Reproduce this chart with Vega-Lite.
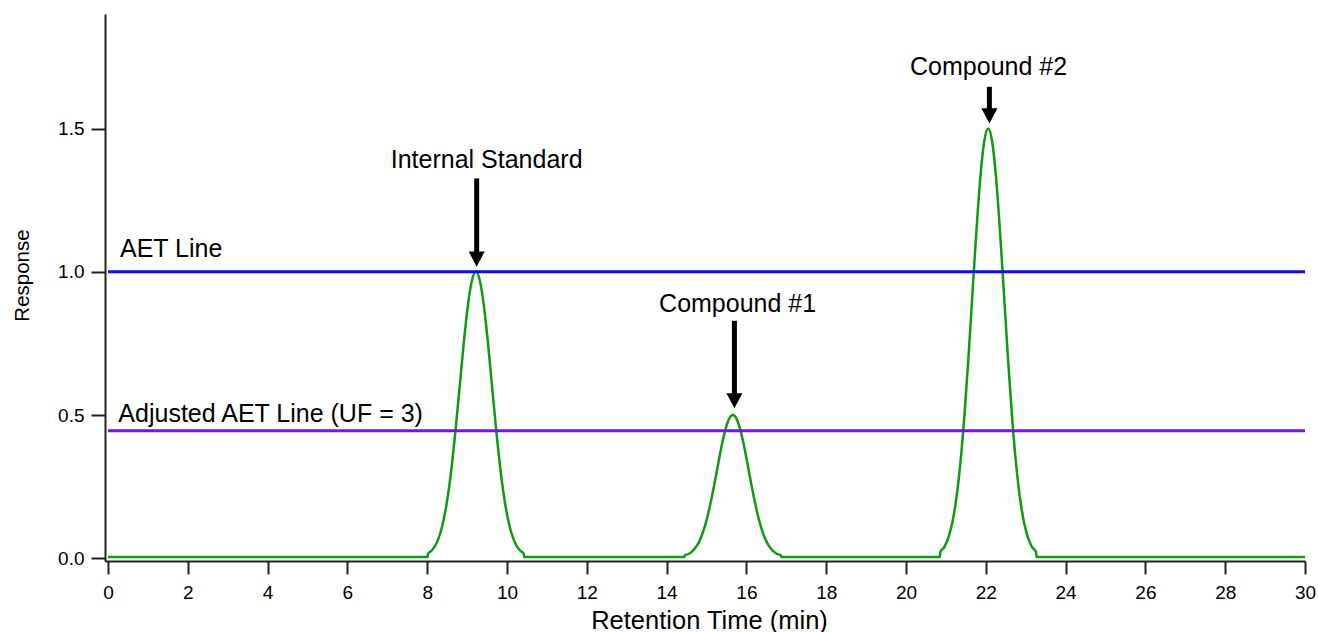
{
  "$schema": "https://vega.github.io/schema/vega-lite/v6.json",
  "width": 1200,
  "height": 547,
  "autosize": {"type": "none"},
  "padding": {"left": 105, "top": 14, "right": 13, "bottom": 71},
  "background": "white",
  "config": {
    "view": {"stroke": null},
    "font": "Liberation Sans",
    "axis": {
      "grid": false,
      "domainColor": "#222222",
      "tickColor": "#222222",
      "domainWidth": 2,
      "tickWidth": 2,
      "labelColor": "#000000",
      "titleColor": "#000000",
      "labelFont": "Liberation Sans",
      "titleFont": "Liberation Sans",
      "labelFontSize": 19,
      "titleFontWeight": "normal",
      "labelFlush": false,
      "labelOverlap": false
    }
  },
  "datasets": {
    "trace": [
      {"x": 0, "y": 0.005}, {"x": 8.01, "y": 0.005},
      {"x": 8.02, "y": 0.016}, {"x": 8.12, "y": 0.028}, {"x": 8.22, "y": 0.049}, {"x": 8.32, "y": 0.084},
      {"x": 8.42, "y": 0.140}, {"x": 8.52, "y": 0.220}, {"x": 8.62, "y": 0.328}, {"x": 8.72, "y": 0.461},
      {"x": 8.82, "y": 0.608}, {"x": 8.92, "y": 0.756}, {"x": 9.02, "y": 0.883}, {"x": 9.12, "y": 0.969},
      {"x": 9.22, "y": 1.000}, {"x": 9.32, "y": 0.969}, {"x": 9.42, "y": 0.883}, {"x": 9.52, "y": 0.756},
      {"x": 9.62, "y": 0.608}, {"x": 9.72, "y": 0.461}, {"x": 9.82, "y": 0.328}, {"x": 9.92, "y": 0.220},
      {"x": 10.02, "y": 0.140}, {"x": 10.12, "y": 0.084}, {"x": 10.22, "y": 0.049}, {"x": 10.32, "y": 0.028},
      {"x": 10.42, "y": 0.016}, {"x": 10.43, "y": 0.005},
      {"x": 14.45, "y": 0.005},
      {"x": 14.46, "y": 0.0105}, {"x": 14.56, "y": 0.016}, {"x": 14.66, "y": 0.027}, {"x": 14.76, "y": 0.044},
      {"x": 14.86, "y": 0.072}, {"x": 14.96, "y": 0.112}, {"x": 15.06, "y": 0.166}, {"x": 15.16, "y": 0.232},
      {"x": 15.26, "y": 0.305}, {"x": 15.36, "y": 0.379}, {"x": 15.46, "y": 0.442}, {"x": 15.56, "y": 0.485},
      {"x": 15.66, "y": 0.500}, {"x": 15.76, "y": 0.485}, {"x": 15.86, "y": 0.442}, {"x": 15.96, "y": 0.379},
      {"x": 16.06, "y": 0.305}, {"x": 16.16, "y": 0.232}, {"x": 16.26, "y": 0.166}, {"x": 16.36, "y": 0.112},
      {"x": 16.46, "y": 0.072}, {"x": 16.56, "y": 0.044}, {"x": 16.66, "y": 0.027}, {"x": 16.76, "y": 0.016},
      {"x": 16.86, "y": 0.0105}, {"x": 16.87, "y": 0.005},
      {"x": 20.85, "y": 0.005},
      {"x": 20.86, "y": 0.022}, {"x": 20.96, "y": 0.039}, {"x": 21.06, "y": 0.071}, {"x": 21.16, "y": 0.124},
      {"x": 21.26, "y": 0.207}, {"x": 21.36, "y": 0.328}, {"x": 21.46, "y": 0.490}, {"x": 21.56, "y": 0.689},
      {"x": 21.66, "y": 0.912}, {"x": 21.76, "y": 1.133}, {"x": 21.86, "y": 1.324}, {"x": 21.96, "y": 1.454},
      {"x": 22.06, "y": 1.500}, {"x": 22.16, "y": 1.454}, {"x": 22.26, "y": 1.324}, {"x": 22.36, "y": 1.133},
      {"x": 22.46, "y": 0.912}, {"x": 22.56, "y": 0.689}, {"x": 22.66, "y": 0.490}, {"x": 22.76, "y": 0.328},
      {"x": 22.86, "y": 0.207}, {"x": 22.96, "y": 0.124}, {"x": 23.06, "y": 0.071}, {"x": 23.16, "y": 0.039},
      {"x": 23.26, "y": 0.022}, {"x": 23.27, "y": 0.005},
      {"x": 30, "y": 0.005}
    ],
    "hlines": [
      {"name": "AET Line", "x": 0, "x2": 30, "y": 1.0},
      {"name": "Adjusted AET Line", "x": 0, "x2": 30, "y": 0.445}
    ],
    "shafts": [
      {"x": 9.24, "y": 1.326, "y2": 1.05},
      {"x": 15.70, "y": 0.829, "y2": 0.556},
      {"x": 22.09, "y": 1.646, "y2": 1.55}
    ],
    "heads": [
      {"x": 9.24, "y": 1.018},
      {"x": 15.70, "y": 0.5235},
      {"x": 22.09, "y": 1.518}
    ],
    "labelsCenter": [
      {"x": 9.49, "y": 1.363, "label": "Internal Standard"},
      {"x": 15.78, "y": 0.859, "label": "Compound #1"},
      {"x": 22.07, "y": 1.687, "label": "Compound #2"}
    ],
    "labelsLeft": [
      {"x": 0.3, "y": 1.053, "label": "AET Line"},
      {"x": 0.26, "y": 0.477, "label": "Adjusted AET Line (UF = 3)"}
    ]
  },
  "encoding": {
    "x": {
      "field": "x",
      "type": "quantitative",
      "scale": {"domain": [-0.075, 30], "nice": false, "zero": false},
      "axis": {
        "title": "Retention Time (min)",
        "values": [0, 2, 4, 6, 8, 10, 12, 14, 16, 18, 20, 22, 24, 26, 28, 30],
        "format": "d",
        "tickSize": 13,
        "labelPadding": 9,
        "labelFontSize": 19,
        "titleFontSize": 25.5,
        "titleBaseline": "alphabetic",
        "titleAlign": "center",
        "titleX": 604,
        "titleY": 67
      }
    },
    "y": {
      "field": "y",
      "type": "quantitative",
      "scale": {"domain": [-0.0094, 1.9], "nice": false, "zero": false},
      "axis": {
        "title": "Response",
        "values": [0, 0.5, 1, 1.5],
        "format": ".1f",
        "tickSize": 14,
        "labelPadding": 7,
        "labelFontSize": 19,
        "titleFontSize": 20.5,
        "titleAngle": 270,
        "titleBaseline": "alphabetic",
        "titleAlign": "center",
        "titleX": -77,
        "titleY": 261
      }
    }
  },
  "layer": [
    {
      "data": {"name": "trace"},
      "mark": {"type": "line", "color": "#119a11", "strokeWidth": 2.5, "interpolate": "monotone"}
    },
    {
      "data": {"name": "hlines"},
      "mark": {"type": "rule", "strokeWidth": 3},
      "encoding": {
        "x2": {"field": "x2"},
        "color": {
          "field": "name",
          "type": "nominal",
          "scale": {"domain": ["AET Line", "Adjusted AET Line"], "range": ["#0a0af5", "#7d0fe8"]},
          "legend": null
        }
      }
    },
    {
      "data": {"name": "shafts"},
      "mark": {"type": "rule", "strokeWidth": 5, "color": "#000000"},
      "encoding": {"y2": {"field": "y2"}}
    },
    {
      "data": {"name": "heads"},
      "mark": {
        "type": "point",
        "shape": "M-1,-1.9L1,-1.9L0,0Z",
        "size": 256,
        "filled": true,
        "color": "#000000",
        "opacity": 1,
        "strokeWidth": 0
      }
    },
    {
      "data": {"name": "labelsCenter"},
      "mark": {"type": "text", "align": "center", "baseline": "alphabetic", "fontSize": 25, "font": "Liberation Sans", "color": "#000000"},
      "encoding": {"text": {"field": "label"}}
    },
    {
      "data": {"name": "labelsLeft"},
      "mark": {"type": "text", "align": "left", "baseline": "alphabetic", "fontSize": 25, "font": "Liberation Sans", "color": "#000000"},
      "encoding": {"text": {"field": "label"}}
    }
  ]
}
